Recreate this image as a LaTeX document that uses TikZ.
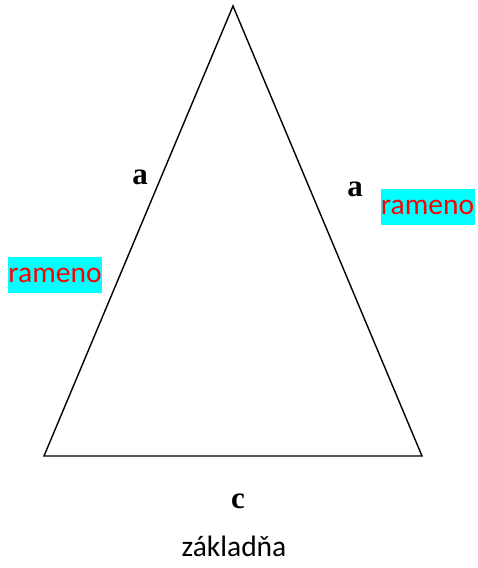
\documentclass[tikz,border=0pt]{standalone}
\usepackage{fontspec}
\setmainfont{Carlito}
\newfontfamily\serifb{Liberation Serif}
\definecolor{hl}{RGB}{0,255,255}
\definecolor{rd}{RGB}{255,0,0}
\begin{document}
\begin{tikzpicture}[x=1pt,y=-1pt,
  side/.style={draw=black,line width=1.4pt,line join=miter},
  lbl/.style={font=\serifb\bfseries\fontsize{31}{31}\selectfont,inner sep=0pt},
  tag/.style={fill=hl,text=rd,font=\fontsize{29.5}{29.5}\selectfont,inner sep=0pt,minimum width=94pt,minimum height=36pt},
  word/.style={font=\fontsize{29.5}{29.5}\selectfont,inner sep=0pt}]
\useasboundingbox (0,0) rectangle (477,568);
\coordinate (A) at (233,6);
\coordinate (B) at (44,456);
\coordinate (C) at (422,456);
\draw[side] (A) -- (B) -- (C) -- cycle;
\node[lbl] (a1) at (140,177) {a};
\node[lbl] (a2) at (355,189) {a};
\node[lbl] (c) at (238,501) {c};
\node[tag] (r1) at (55,275) {rameno};
\node[tag] (r2) at (427.5,207) {rameno};
\node[word] (z) at (234,546) {základňa};
\end{tikzpicture}
\end{document}
